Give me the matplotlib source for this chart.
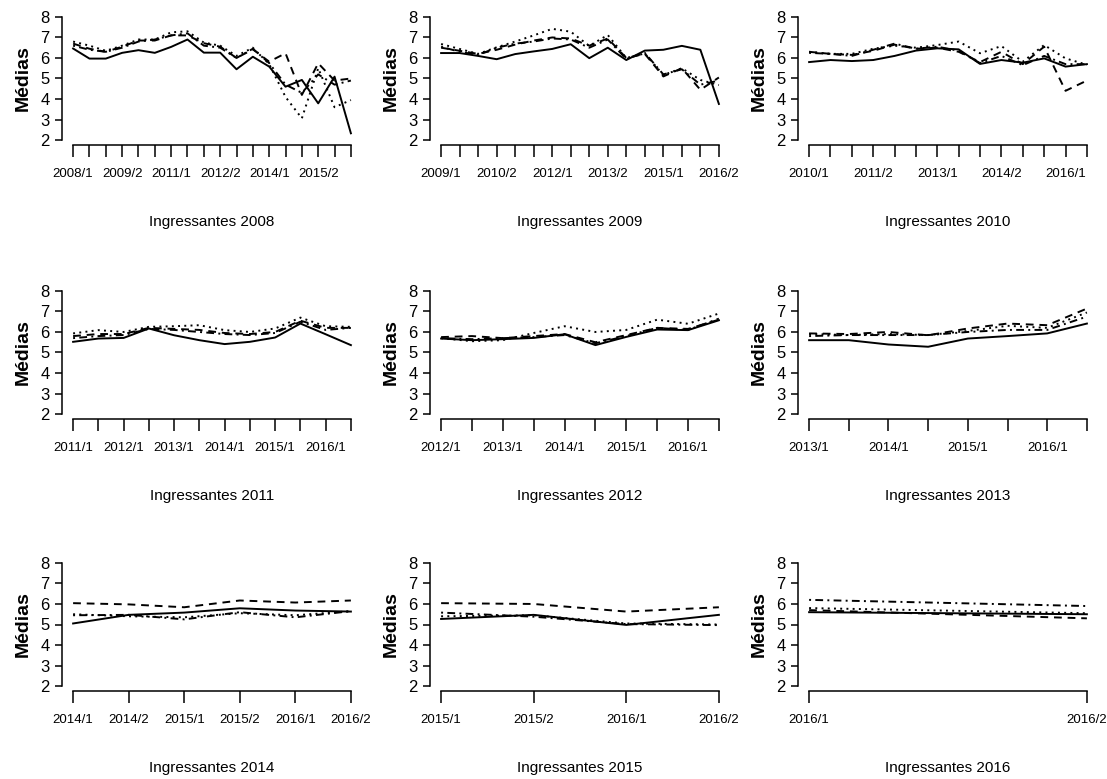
import matplotlib
matplotlib.use('Agg')
import matplotlib.pyplot as plt

# medias por semestre, 4 series por coorte de ingressantes
s1_2008 = [6.46, 5.97, 5.97, 6.25, 6.38, 6.25, 6.54, 6.9, 6.26, 6.26, 5.45, 6.06, 5.58, 4.6, 4.93, 3.79, 5.09, 2.33]
s2_2008 = [6.7, 6.45, 6.3, 6.55, 6.85, 6.85, 7.1, 7.1, 6.72, 6.55, 6.0, 6.42, 5.82, 6.23, 4.2, 5.74, 4.9, 5.0]
s3_2008 = [6.8, 6.6, 6.35, 6.6, 6.9, 6.9, 7.25, 7.3, 6.75, 6.6, 6.1, 6.5, 5.7, 4.1, 3.06, 5.5, 3.6, 3.95]
s4_2008 = [6.6, 6.4, 6.3, 6.5, 6.8, 6.9, 7.1, 7.2, 6.6, 6.5, 6.0, 6.45, 5.75, 4.7, 4.3, 5.2, 4.7, 4.9]

s1_2009 = [6.24, 6.24, 6.1, 5.94, 6.19, 6.32, 6.44, 6.67, 5.99, 6.5, 5.9, 6.36, 6.4, 6.59, 6.4, 3.76]
s2_2009 = [6.5, 6.35, 6.2, 6.4, 6.65, 6.85, 7.0, 6.95, 6.6, 6.95, 6.0, 6.2, 5.1, 5.5, 4.45, 5.05]
s3_2009 = [6.68, 6.44, 6.2, 6.52, 6.8, 7.1, 7.42, 7.28, 6.59, 7.12, 6.0, 6.22, 5.17, 5.5, 4.93, 4.68]
s4_2009 = [6.55, 6.3, 6.15, 6.5, 6.7, 6.8, 6.95, 6.9, 6.5, 6.9, 5.95, 6.25, 5.2, 5.45, 4.7, 4.9]

s1_2010 = [5.8, 5.9, 5.85, 5.9, 6.1, 6.36, 6.47, 6.42, 5.71, 5.9, 5.77, 5.98, 5.58, 5.7]
s2_2010 = [6.3, 6.2, 6.15, 6.35, 6.65, 6.45, 6.5, 6.3, 5.8, 6.3, 5.7, 6.55, 4.4, 4.9]
s3_2010 = [6.3, 6.2, 6.2, 6.45, 6.6, 6.5, 6.63, 6.8, 6.23, 6.58, 5.82, 6.63, 5.98, 5.67]
s4_2010 = [6.25, 6.2, 6.1, 6.4, 6.7, 6.45, 6.55, 6.35, 5.75, 6.1, 5.65, 6.1, 5.7, 5.7]

s1_2011 = [5.52, 5.68, 5.71, 6.17, 5.84, 5.6, 5.41, 5.52, 5.73, 6.41, 5.89, 5.36]
s2_2011 = [5.8, 5.9, 5.9, 6.2, 6.15, 6.1, 5.95, 5.9, 6.0, 6.55, 6.2, 6.2]
s3_2011 = [5.93, 6.09, 6.0, 6.25, 6.28, 6.33, 6.09, 6.0, 6.17, 6.7, 6.28, 6.25]
s4_2011 = [5.7, 5.8, 5.85, 6.15, 6.1, 6.0, 5.9, 5.85, 5.95, 6.5, 6.1, 6.2]

s1_2012 = [5.68, 5.6, 5.65, 5.71, 5.89, 5.36, 5.76, 6.12, 6.09, 6.57]
s2_2012 = [5.75, 5.8, 5.7, 5.8, 5.9, 5.5, 5.85, 6.2, 6.15, 6.6]
s3_2012 = [5.7, 5.55, 5.6, 5.95, 6.28, 6.0, 6.1, 6.6, 6.4, 6.9]
s4_2012 = [5.7, 5.65, 5.7, 5.75, 5.85, 5.45, 5.8, 6.2, 6.1, 6.65]

s1_2013 = [5.6, 5.6, 5.39, 5.28, 5.68, 5.8, 5.93, 6.41]
s2_2013 = [5.93, 5.9, 6.0, 5.84, 6.17, 6.41, 6.33, 7.14]
s3_2013 = [5.9, 5.85, 5.9, 5.85, 6.05, 6.3, 6.2, 6.95]
s4_2013 = [5.8, 5.85, 5.85, 5.85, 6.0, 6.1, 6.1, 6.75]

s1_2014 = [5.05, 5.47, 5.58, 5.79, 5.68, 5.63]
s2_2014 = [6.04, 5.98, 5.84, 6.17, 6.07, 6.17]
s3_2014 = [5.5, 5.4, 5.35, 5.55, 5.45, 5.65]
s4_2014 = [5.45, 5.47, 5.25, 5.6, 5.35, 5.65]

s1_2015 = [5.27, 5.47, 4.98, 5.47]
s2_2015 = [6.04, 6.0, 5.63, 5.84]
s3_2015 = [5.4, 5.45, 5.05, 5.0]
s4_2015 = [5.58, 5.38, 5.02, 4.97]

s1_2016 = [5.6, 5.5]
s2_2016 = [5.7, 5.3]
s3_2016 = [5.8, 5.55]
s4_2016 = [6.2, 5.9]

anos = [2008, 2009, 2010, 2011, 2012, 2013, 2014, 2015, 2016]
passo_rotulo = [3, 3, 3, 2, 2, 2, 1, 1, 1]
series = [
    [s1_2008, s2_2008, s3_2008, s4_2008],
    [s1_2009, s2_2009, s3_2009, s4_2009],
    [s1_2010, s2_2010, s3_2010, s4_2010],
    [s1_2011, s2_2011, s3_2011, s4_2011],
    [s1_2012, s2_2012, s3_2012, s4_2012],
    [s1_2013, s2_2013, s3_2013, s4_2013],
    [s1_2014, s2_2014, s3_2014, s4_2014],
    [s1_2015, s2_2015, s3_2015, s4_2015],
    [s1_2016, s2_2016, s3_2016, s4_2016],
]

# lty 1:4 do R
estilos = ['-', (0, (4, 3)), (0, (1, 2.2)), (0, (1, 2.2, 4, 2.2))]

fonte = 'Liberation Sans'


def semestres(ano, n):
    rot = []
    for i in range(n):
        rot.append('%d/%d' % (ano + i // 2, i % 2 + 1))
    return rot


W, H = 1107, 779
fig = plt.figure(figsize=(W / 100, H / 100), dpi=100)
lefts = [62, 430, 798]
bottoms = [145, 419, 691]
aw, ah = 300, 133

for k, ano in enumerate(anos):
    r, c = divmod(k, 3)
    ax = fig.add_axes([lefts[c] / W, 1 - bottoms[r] / H, aw / W, ah / H])
    n = len(series[k][0])
    x = list(range(n))
    for ys, ls in zip(series[k], estilos):
        ax.plot(x, ys, color='black', lw=1.4, linestyle=ls)

    ax.set_xlim(-0.04 * (n - 1), (n - 1) * 1.04)
    ax.set_ylim(1.76, 8.24)
    ax.spines['top'].set_visible(False)
    ax.spines['right'].set_visible(False)
    ax.spines['left'].set_bounds(2, 8)
    ax.spines['bottom'].set_bounds(0, n - 1)
    for s in ['left', 'bottom']:
        ax.spines[s].set_linewidth(1.1)

    rot = semestres(ano, n)
    ax.set_xticks(x)
    ax.set_xticklabels([lab if i % passo_rotulo[k] == 0 else '' for i, lab in enumerate(rot)],
                       family=fonte, fontsize=9.5)
    ax.set_yticks(range(2, 9))
    ax.set_yticklabels([str(v) for v in range(2, 9)], family=fonte, fontsize=12)
    ax.tick_params(axis='x', length=8.6, width=1.1, pad=8)
    ax.tick_params(axis='y', length=5, width=1.1, pad=4)

    ax.set_xlabel('Ingressantes %d' % ano, family=fonte, fontsize=11, va='center')
    ax.xaxis.set_label_coords(0.5, -0.58)
    ax.set_ylabel('Médias', family=fonte, fontsize=14, fontweight='bold', va='center')
    ax.yaxis.set_label_coords(-0.13, 0.5)

fig.savefig('out.png', dpi=100, facecolor='white')
